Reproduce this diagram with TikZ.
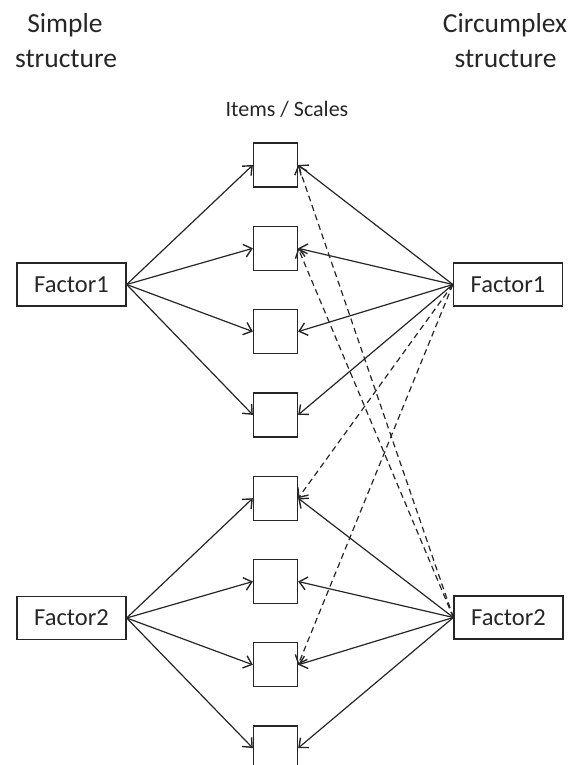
\documentclass[tikz,border=0pt]{standalone}
\usepackage{fontspec}
\setmainfont{Carlito}
\usetikzlibrary{arrows.meta}
\definecolor{ink}{HTML}{262626}
\begin{document}
\begin{tikzpicture}[x=1pt,y=-1pt,
  itembox/.style={draw=ink,line width=1.3pt,minimum width=44pt,minimum height=44pt,inner sep=0pt},
  factorbox/.style={draw=ink,line width=1.3pt,minimum width=109pt,minimum height=43pt,inner sep=0pt,font=\fontsize{24.5}{28}\selectfont,text=ink},
  head/.style={font=\fontsize{27.5}{35}\selectfont,text=ink,align=center},
  link/.style={draw=ink,line width=1.2pt,-{Straight Barb[length=7.5pt,width=13pt,line width=1.4pt]}},
  dlink/.style={link,dash pattern=on 6pt off 4pt}]
\useasboundingbox (0,0) rectangle (573,765);
\clip (0,0) rectangle (573,765);
\node[head,anchor=base] (s1) at (65,33) {Simple};
\node[head,anchor=base] (s2) at (66,68) {structure};
\node[head,anchor=base] (c1) at (505,33) {Circumplex};
\node[head,anchor=base] (c2) at (505.5,68) {structure};
\node[font=\fontsize{22}{26}\selectfont,text=ink,anchor=base] (is) at (287,117) {Items / Scales};
\foreach \i in {1,...,8}{
  \node[itembox] (b\i) at (275.5,{165+83.3*(\i-1)}) {};
}
\node[factorbox] (lf1) at (71.5,284.5) {Factor1};
\node[factorbox] (lf2) at (71.5,618) {Factor2};
\node[factorbox] (rf1) at (508,284.5) {Factor1};
\node[factorbox] (rf2) at (508.5,617.5) {Factor2};
\foreach \i in {1,...,4}{
  \draw[link] (lf1.east) -- (b\i.west);
  \draw[link] (rf1.west) -- (b\i.east);
}
\foreach \i in {5,...,8}{
  \draw[link] (lf2.east) -- (b\i.west);
  \draw[link] (rf2.west) -- (b\i.east);
}
\draw[dlink] (rf1.west) -- (b5.east);
\draw[dlink] (rf1.west) -- (b7.east);
\draw[dlink] (rf2.west) -- (b1.east);
\draw[dlink] (rf2.west) -- (b2.east);
\end{tikzpicture}
\end{document}
